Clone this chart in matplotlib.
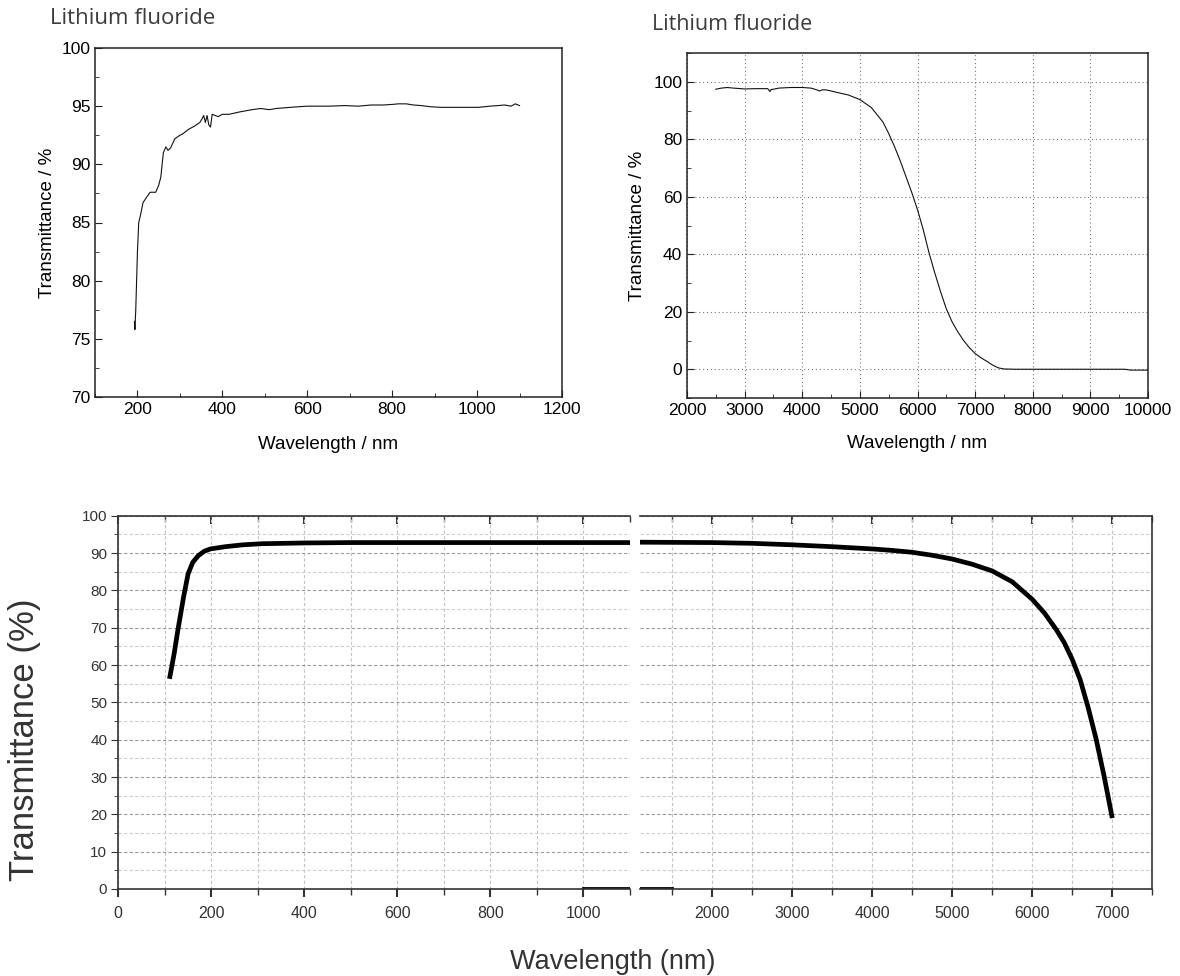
import matplotlib.pyplot as plt
from matplotlib.ticker import MultipleLocator

# UV-VIS spectrum (top left)
uv_wl = [193, 194, 196, 198, 200, 203, 207, 213, 222, 230, 243, 250, 255, 261, 267,
         272, 278, 288, 300, 306, 320, 335, 347, 352, 356, 360, 364, 368, 372, 376,
         383, 390, 400, 416, 440, 470, 490, 510, 527, 560, 599, 650, 689, 720, 750,
         779, 800, 815, 833, 850, 869, 890, 914, 950, 1004, 1030, 1049, 1065, 1080,
         1090, 1100]
uv_t = [76.5, 75.8, 77.5, 80.0, 82.5, 85.0, 85.6, 86.7, 87.2, 87.6, 87.6, 88.2, 88.9,
        91.0, 91.5, 91.2, 91.4, 92.2, 92.5, 92.6, 93.0, 93.3, 93.6, 93.9, 94.2, 93.6,
        94.2, 93.4, 93.2, 94.3, 94.2, 94.1, 94.3, 94.3, 94.5, 94.7, 94.8, 94.7, 94.8,
        94.9, 95.0, 95.0, 95.05, 95.0, 95.1, 95.1, 95.15, 95.2, 95.2, 95.1, 95.05,
        94.95, 94.9, 94.9, 94.9, 95.0, 95.05, 95.1, 95.0, 95.2, 95.05]

# IR spectrum (top right)
ir_wl = [2500, 2600, 2700, 2800, 3000, 3200, 3400, 3440, 3460, 3500, 3600, 3800, 4000,
         4150, 4250, 4300, 4350, 4400, 4500, 4600, 4800, 5000, 5200, 5400, 5500, 5600,
         5700, 5800, 5900, 6000, 6100, 6200, 6300, 6400, 6500, 6600, 6700, 6800, 6900,
         7000, 7100, 7200, 7300, 7400, 7500, 7700, 8000, 8500, 9000, 9500, 9600, 9700,
         10000]
ir_t = [97.4, 97.8, 98.0, 97.8, 97.5, 97.6, 97.6, 96.6, 97.3, 97.4, 97.8, 98.0, 98.0,
        97.8, 97.2, 96.8, 97.2, 97.2, 96.8, 96.3, 95.4, 93.8, 91.0, 86.0, 82.0, 77.5,
        72.5, 67.0, 61.5, 55.5, 48.5, 40.5, 33.5, 27.0, 21.0, 16.5, 13.0, 10.0, 7.5,
        5.5, 4.0, 2.8, 1.5, 0.5, 0.1, 0.0, 0.0, 0.0, 0.0, 0.0, 0.0, -0.3, -0.3]

# broad-band curve (bottom, broken axis)
bb_wl_short = [110, 120, 128, 140, 150, 160, 172, 185, 198, 230, 268, 310, 356, 400,
               500, 700, 900, 1100]
bb_t_short = [56.3, 63.0, 69.3, 78.0, 84.4, 87.5, 89.3, 90.5, 91.1, 91.7, 92.2, 92.5,
              92.6, 92.7, 92.8, 92.8, 92.8, 92.8]
bb_wl_long = [1100, 2000, 2500, 3000, 3500, 4000, 4250, 4500, 4750, 5000, 5250, 5500,
              5750, 6000, 6150, 6300, 6400, 6500, 6600, 6700, 6800, 6900, 7000]
bb_t_long = [92.9, 92.8, 92.6, 92.2, 91.7, 91.1, 90.7, 90.2, 89.4, 88.4, 87.0, 85.2,
             82.3, 77.6, 74.0, 69.5, 66.0, 61.5, 56.0, 48.5, 40.0, 30.0, 19.0]
base_wl = [1000, 1100, 1500]
base_t = [0.3, 0.3, 0.3]

W, H = 1180, 976
fig = plt.figure(figsize=(W / 100, H / 100), dpi=100)

sans = ['Liberation Sans', 'DejaVu Sans']


def box(l, r, t, b):
    return [l / W, 1 - b / H, (r - l) / W, (b - t) / H]


# ---- top left ----
ax1 = fig.add_axes(box(95, 562, 48, 397))
ax1.plot(uv_wl, uv_t, color='#111111', lw=0.8)
ax1.set_xlim(100, 1200)
ax1.set_ylim(70, 100)
ax1.xaxis.set_major_locator(MultipleLocator(200))
ax1.xaxis.set_minor_locator(MultipleLocator(100))
ax1.yaxis.set_major_locator(MultipleLocator(5))
ax1.yaxis.set_minor_locator(MultipleLocator(2.5))
ax1.set_xticks([200, 400, 600, 800, 1000, 1200])
ax1.tick_params(which='both', direction='in', labelsize=12.5, color='#222222')
ax1.tick_params(which='major', length=5)
ax1.tick_params(which='minor', length=3)
ax1.set_xlabel('Wavelength / nm', fontsize=13.5, family=sans, labelpad=14)
ax1.set_ylabel('Transmittance / %', fontsize=13.5, family=sans, labelpad=4)

# ---- top right ----
ax2 = fig.add_axes(box(687, 1148, 53, 398))
ax2.plot(ir_wl, ir_t, color='#111111', lw=0.8)
ax2.set_xlim(2000, 10000)
ax2.set_ylim(-10, 110)
ax2.xaxis.set_major_locator(MultipleLocator(1000))
ax2.xaxis.set_minor_locator(MultipleLocator(500))
ax2.yaxis.set_major_locator(MultipleLocator(20))
ax2.yaxis.set_minor_locator(MultipleLocator(10))
ax2.set_yticks([0, 20, 40, 60, 80, 100])
ax2.grid(True, which='major', linestyle=(0, (1, 2.5)), color='#777777', lw=0.8)
ax2.tick_params(which='both', direction='in', labelsize=12.5, color='#222222')
ax2.tick_params(which='major', length=5)
ax2.tick_params(which='minor', length=3)
ax2.set_xlabel('Wavelength / nm', fontsize=13.5, family=sans, labelpad=12)
ax2.set_ylabel('Transmittance / %', fontsize=13.5, family=sans, labelpad=5)

for ax in (ax1, ax2):
    for s in ax.spines.values():
        s.set_linewidth(1.1)
        s.set_color('#222222')
    for lab in ax.get_xticklabels() + ax.get_yticklabels():
        lab.set_family(sans)

fig.text(50 / W, 1 - 19 / H, 'Lithium fluoride', fontsize=16, family='Open Sans',
         color='#3c3c3c', va='center', ha='left')
fig.text(652 / W, 1 - 25 / H, 'Lithium fluoride', fontsize=15.5, family='Open Sans',
         color='#3c3c3c', va='center', ha='left')

# ---- bottom, broken x axis ----
ax3 = fig.add_axes(box(118.3, 630, 515.7, 889))
ax4 = fig.add_axes(box(640, 1152.3, 515.7, 889))

ax3.plot(bb_wl_short, bb_t_short, color='black', lw=3.4, solid_capstyle='butt',
         solid_joinstyle='round')
ax3.plot(base_wl, base_t, color='black', lw=2)
ax4.plot(bb_wl_long, bb_t_long, color='black', lw=3.4, solid_capstyle='butt',
         solid_joinstyle='round')
ax4.plot(base_wl, base_t, color='black', lw=2)

ax3.set_xlim(0, 1100)
ax4.set_xlim(1100, 7500)
for ax in (ax3, ax4):
    ax.set_ylim(0, 100)
    ax.yaxis.set_major_locator(MultipleLocator(10))
    ax.yaxis.set_minor_locator(MultipleLocator(5))
    ax.grid(True, axis='y', which='major', linestyle=(0, (3, 2)), color='#9a9a9a', lw=0.8)
    ax.grid(True, axis='y', which='minor', linestyle=(0, (3, 2)), color='#cfcfcf', lw=0.8)
    ax.grid(True, axis='x', which='both', linestyle=(0, (3, 2)), color='#c4c4c4', lw=0.8)
    for s in ax.spines.values():
        s.set_linewidth(1.2)
        s.set_color('#333333')

ax3.xaxis.set_major_locator(MultipleLocator(200))
ax3.xaxis.set_minor_locator(MultipleLocator(100))
ax4.set_xticks([2000, 3000, 4000, 5000, 6000, 7000])
ax4.set_xticks([1500, 2500, 3500, 4500, 5500, 6500, 7500], minor=True)

ax3.spines['right'].set_visible(False)
ax4.spines['left'].set_visible(False)
ax4.tick_params(axis='y', which='both', left=False, labelleft=False)

for ax in (ax3, ax4):
    ax.tick_params(axis='x', which='both', direction='out', color='#333333',
                   labelsize=11.5, pad=6, labelcolor='#333333')
    ax.tick_params(axis='x', which='major', length=6, width=1.5)
    ax.tick_params(axis='x', which='minor', length=4, width=1.0)
    top = ax.secondary_xaxis('top')
    top.set_xticks(ax.get_xticks())
    top.set_xticks(ax.get_xticks(minor=True), minor=True)
    top.tick_params(which='both', direction='in', labeltop=False, color='#333333')
    top.tick_params(which='major', length=6, width=1.5)
    top.tick_params(which='minor', length=4, width=1.0)
    top.spines['top'].set_visible(False)
    for lab in ax.get_xticklabels():
        lab.set_family(sans)

ax3.tick_params(axis='y', which='both', direction='out', color='#333333',
                labelsize=11, pad=3, labelcolor='#333333')
ax3.tick_params(axis='y', which='major', length=5)
ax3.tick_params(axis='y', which='minor', length=3)
for lab in ax3.get_yticklabels():
    lab.set_family(sans)

fig.text(25 / W, 1 - 740 / H, 'Transmittance (%)', fontsize=25, family=sans,
         rotation=90, va='center', ha='center', color='#333333')
fig.text(613 / W, 1 - 962 / H, 'Wavelength (nm)', fontsize=19.5, family=sans,
         va='center', ha='center', color='#333333')

fig.savefig('out.png', dpi=100, facecolor='white')
